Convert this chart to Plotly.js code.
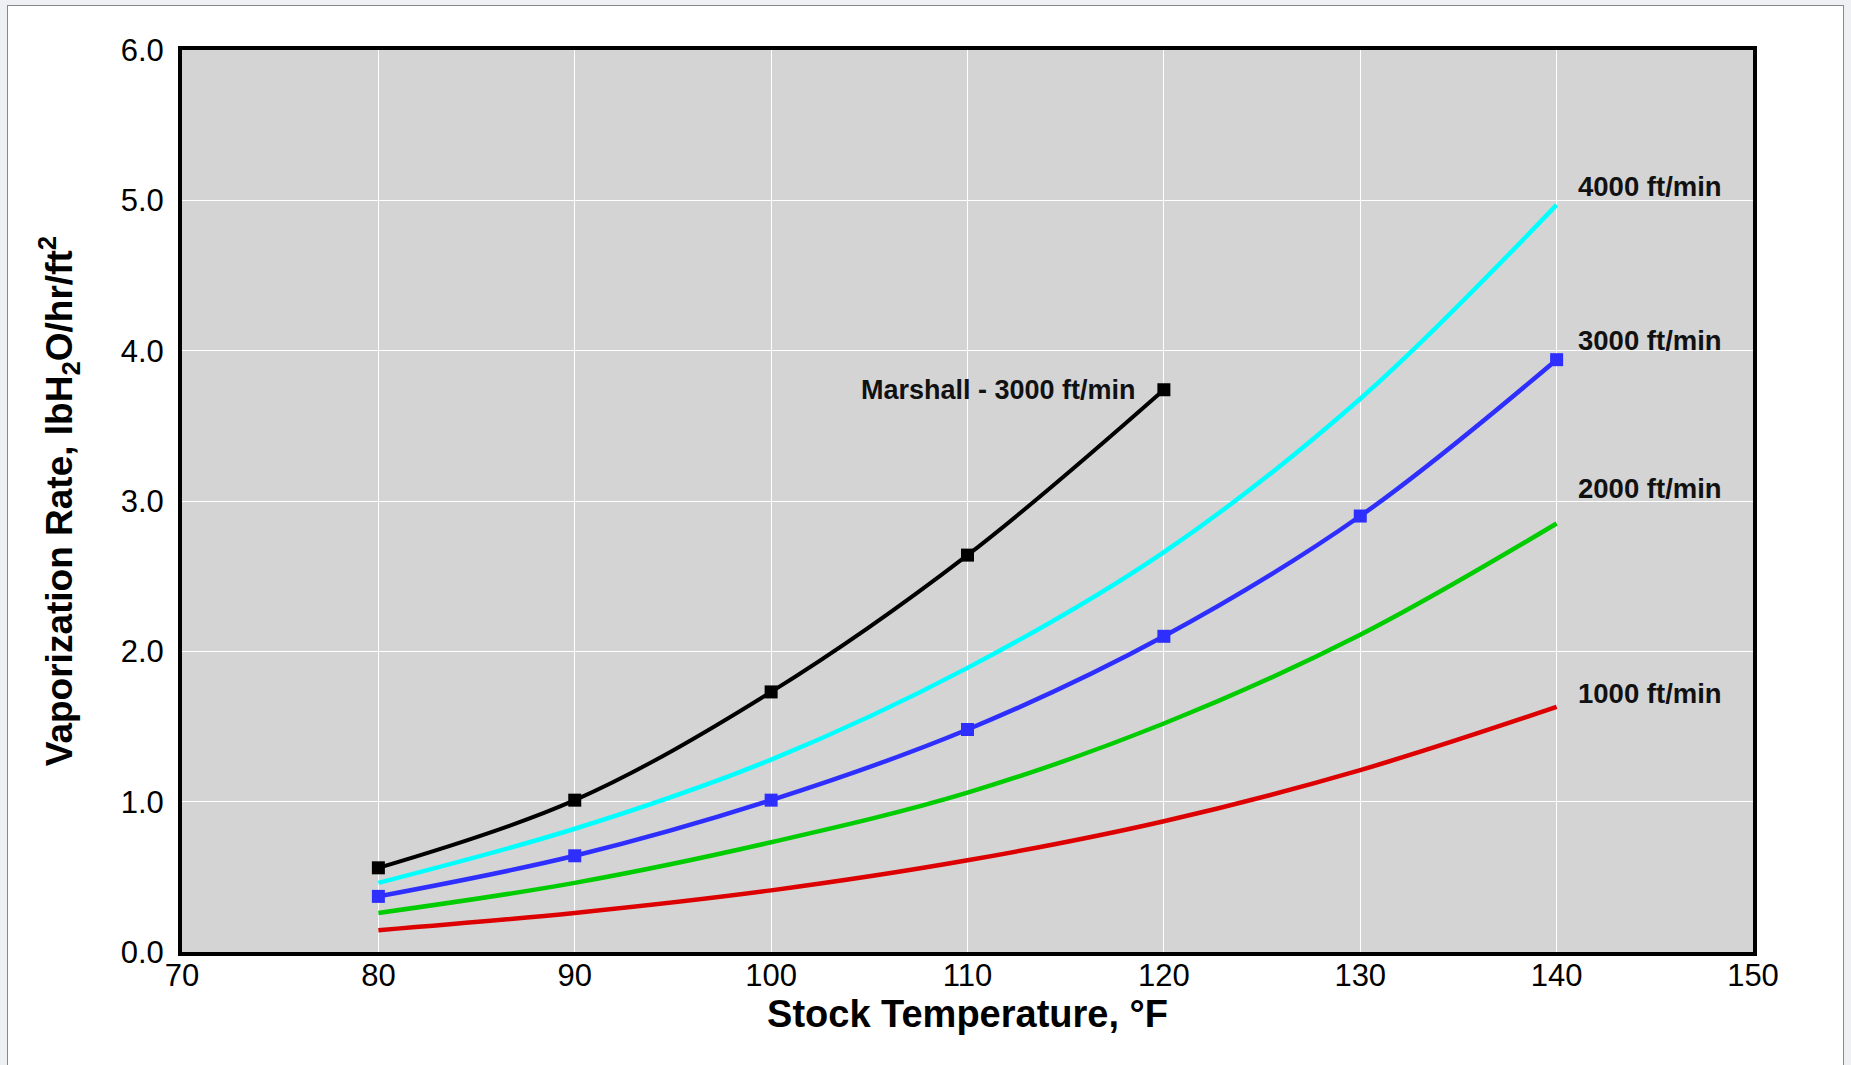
<!DOCTYPE html>
<html>
<head>
<meta charset="utf-8">
<script src="https://cdn.plot.ly/plotly-3.0.1.min.js"></script>
<style>
  html, body { margin:0; padding:0; background:#eef0f3; }
  #frame { position:absolute; left:7px; top:5px; width:1835px; height:1100px; background:#ffffff; border:1px solid #888888; }
  #chart { position:absolute; left:0; top:0; width:1851px; height:1065px; }
</style>
</head>
<body>
<div id="frame"></div>
<div id="chart"></div>
<script>
// Stock temperature, °F
const temps = [80, 90, 100, 110, 120, 130, 140];
const tempsMarshall = [80, 90, 100, 110, 120];

// Vaporization rate, lbH2O/hr/ft2
const marshall3000 = [0.56, 1.01, 1.73, 2.64, 3.74];
const rate4000 = [0.46, 0.82, 1.28, 1.89, 2.66, 3.68, 4.97];
const rate3000 = [0.37, 0.64, 1.01, 1.48, 2.10, 2.90, 3.94];
const rate2000 = [0.26, 0.46, 0.73, 1.06, 1.52, 2.11, 2.85];
const rate1000 = [0.145, 0.26, 0.41, 0.61, 0.87, 1.21, 1.63];

// Curve labels
const labelTexts = ['4000 ft/min', '3000 ft/min', '2000 ft/min', '1000 ft/min'];
const labelY = [5.09, 4.07, 3.08, 1.72];
const labelX = 141;
const marshallLabel = 'Marshall - 3000 ft/min';

const FONT = 'Liberation Sans, Arial, sans-serif';

const traces = [
  {x: tempsMarshall, y: marshall3000, mode: 'lines+markers', line: {color: '#000000', width: 4, shape: 'spline'},
   marker: {symbol: 'square', size: 13, color: '#000000'}, name: marshallLabel},
  {x: temps, y: rate4000, mode: 'lines', line: {color: '#00ffff', width: 4.5, shape: 'spline'}, name: labelTexts[0]},
  {x: temps, y: rate3000, mode: 'lines+markers', line: {color: '#2e2eff', width: 4.5, shape: 'spline'},
   marker: {symbol: 'square', size: 13, color: '#2e2eff'}, name: labelTexts[1]},
  {x: temps, y: rate2000, mode: 'lines', line: {color: '#00cc00', width: 4.5, shape: 'spline'}, name: labelTexts[2]},
  {x: temps, y: rate1000, mode: 'lines', line: {color: '#dd0000', width: 4.5, shape: 'spline'}, name: labelTexts[3]}
];

const annotations = labelTexts.map((t, i) => ({
  x: labelX, y: labelY[i], xref: 'x', yref: 'y', text: '<b>' + t + '</b>', showarrow: false,
  xanchor: 'left', yanchor: 'middle', font: {family: FONT, size: 27.5, color: '#111111'}
}));
annotations.push({
  x: 118.7, y: 3.74, xref: 'x', yref: 'y', text: '<b>' + marshallLabel + '</b>', showarrow: false,
  xanchor: 'right', yanchor: 'middle', font: {family: FONT, size: 27, color: '#111111'}
});

const layout = {
  width: 1851, height: 1065,
  margin: {l: 182, r: 98, t: 50, b: 113, pad: 0},
  paper_bgcolor: 'rgba(0,0,0,0)',
  plot_bgcolor: '#d4d4d4',
  showlegend: false,
  font: {family: FONT, color: '#000000'},
  xaxis: {
    range: [70, 150], dtick: 10, tick0: 70, showgrid: true, gridcolor: '#ffffff', gridwidth: 1,
    zeroline: false, showline: true, linecolor: '#000000', linewidth: 4, mirror: true,
    ticks: '', ticklabelstandoff: -7,
    tickfont: {family: FONT, size: 31, color: '#000000'},
    automargin: false,
    title: {text: '<b>Stock Temperature, °F</b>', font: {family: FONT, size: 38, color: '#000000'}, standoff: 0}
  },
  yaxis: {
    range: [0, 6], dtick: 1, tick0: 0, tickformat: '.1f', showgrid: true, gridcolor: '#ffffff', gridwidth: 1,
    zeroline: false, showline: true, linecolor: '#000000', linewidth: 4, mirror: true,
    ticks: 'outside', ticklen: 8, tickcolor: 'rgba(0,0,0,0)',
    tickfont: {family: FONT, size: 31, color: '#000000'},
    automargin: false,
    title: {text: '<b>Vaporization Rate, lbH<sub>2</sub>O/hr/ft<sup>2</sup></b>', font: {family: FONT, size: 37, color: '#000000'}, standoff: 38}
  },
  annotations: annotations
};

Plotly.newPlot('chart', traces, layout, {displayModeBar: false, staticPlot: true});
</script>
</body>
</html>
